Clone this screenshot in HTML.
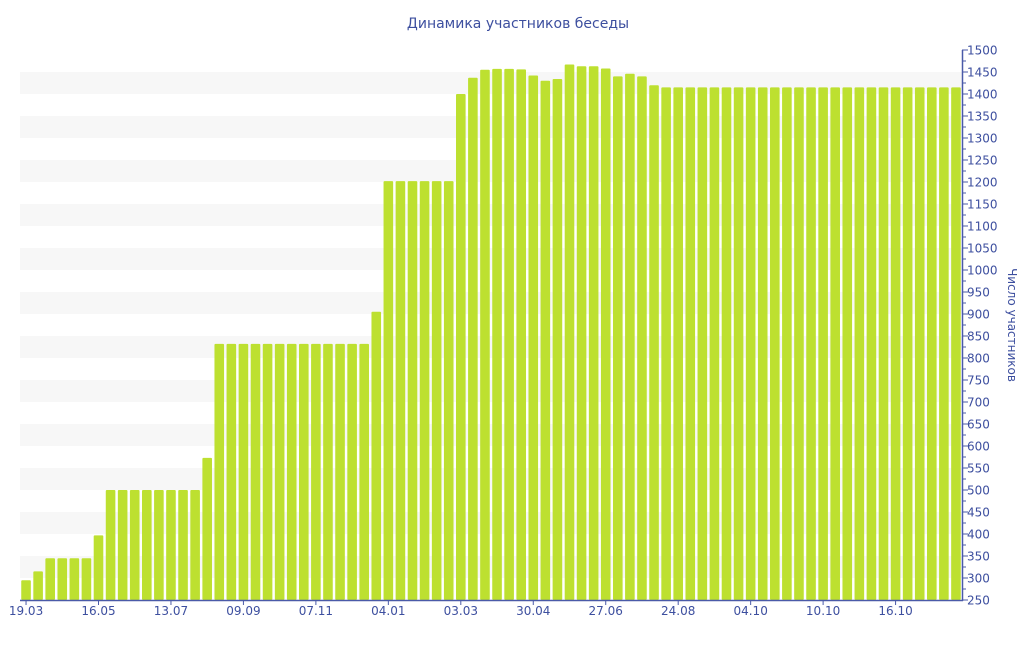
<!DOCTYPE html>
<html><head><meta charset="utf-8"><style>
body{margin:0;background:#fff;}
svg text{font-family:"DejaVu Sans","Liberation Sans",sans-serif;fill:#3d4f9f;}
</style></head><body>
<svg width="1024" height="640" xmlns="http://www.w3.org/2000/svg">
<text x="518" y="28" font-size="14" text-anchor="middle">Динамика участников беседы</text>
<g id="stripes" fill="#f7f7f7"></g>
<g id="bars" fill="#bde030"></g>
<line x1="20" y1="600.5" x2="963" y2="600.5" stroke="#4a5aa8" stroke-width="1.5"/>
<line x1="962.5" y1="50" x2="962.5" y2="601" stroke="#4a5aa8" stroke-width="1.5"/>
<g id="yt" font-size="12"></g>
<g id="xt" font-size="12" text-anchor="middle"></g>
<text transform="translate(1008,325) rotate(90)" font-size="12" text-anchor="middle">Число участников</text>
</svg>
<script>
const NS="http://www.w3.org/2000/svg";
function el(t,a,p,txt){const e=document.createElementNS(NS,t);for(const k in a)e.setAttribute(k,a[k]);if(txt)e.textContent=txt;document.getElementById(p).appendChild(e);return e;}
const Y=v=>600-(v-250)*0.44;
for(let v=300;v<1500;v+=100) el('rect',{x:20,y:Y(v+50),width:942,height:22},'stripes');
const vals=[295,315,345,345,345,345,397];
for(let i=0;i<8;i++)vals.push(500);
vals.push(573);
for(let i=0;i<13;i++)vals.push(832);
vals.push(905);
for(let i=0;i<6;i++)vals.push(1202);
vals.push(1400,1437,1455,1457,1457,1456,1442,1430,1434,1467,1463,1463,1458,1440,1446,1440,1420);
while(vals.length<78)vals.push(1415);
const pitch=942/78;
vals.forEach((v,i)=>{const cx=20+pitch*(i+0.5);el('rect',{x:cx-4.8,y:Y(v),width:9.6,height:600-Y(v),rx:1},'bars');});
for(let v=250;v<=1500;v+=25){const y=Y(v);el('line',{x1:962,x2:v%50==0?968:966,y1:y,y2:y,stroke:'#4a5aa8','stroke-width':1},'yt');
 if(v%50==0)el('text',{x:967,y:y+4.5},'yt',String(v));}
const lab=['19.03','16.05','13.07','09.09','07.11','04.01','03.03','30.04','27.06','24.08','04.10','10.10','16.10'];
lab.forEach((l,k)=>{const cx=20+pitch*(k*6+0.5);el('line',{x1:cx,x2:cx,y1:600,y2:605,stroke:'#4a5aa8'},'xt');el('text',{x:cx,y:615},'xt',l);});
</script>
</body></html>
